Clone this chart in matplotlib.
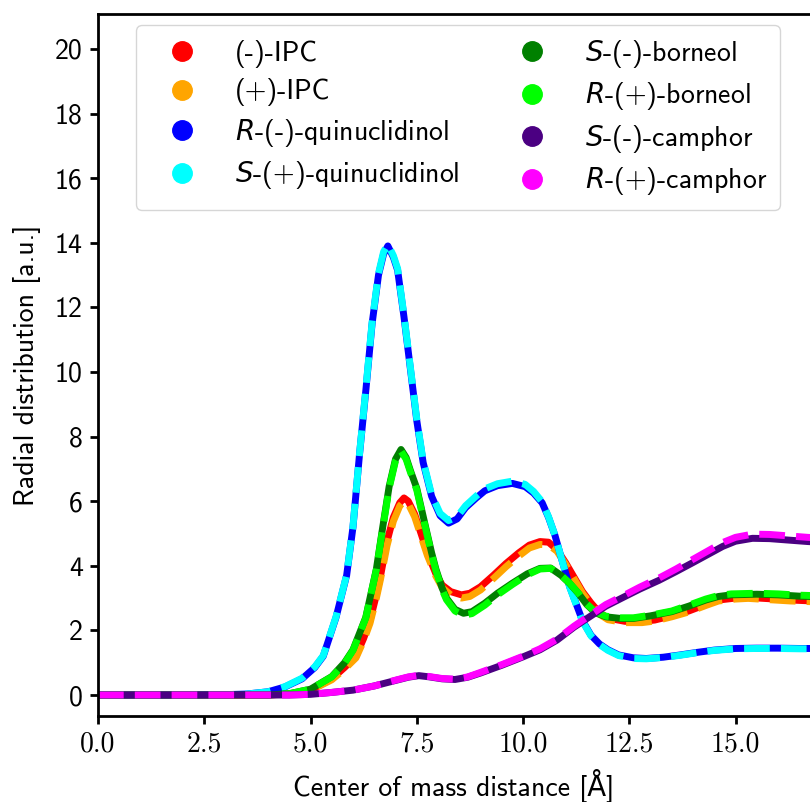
import matplotlib
matplotlib.use("Agg")
import matplotlib.pyplot as plt
from matplotlib.lines import Line2D

# ---------------- data ----------------
labels = ["(-)-IPC", "(+)-IPC", r"$R$-(-)-quinuclidinol", r"$S$-(+)-quinuclidinol",
          r"$S$-(-)-borneol", r"$R$-(+)-borneol", r"$S$-(-)-camphor", r"$R$-(+)-camphor"]
colors = ["red", "orange", "blue", "cyan", "green", "lime", "indigo", "magenta"]

r_quin = [0, 2, 3, 3.5, 4.0, 4.4, 4.8, 5.1, 5.3, 5.6, 5.85, 6.0, 6.15, 6.3, 6.45, 6.6, 6.72,
          6.82, 6.95, 7.05, 7.2, 7.35, 7.5, 7.65, 7.85, 8.05, 8.25, 8.45, 8.65, 8.9, 9.1, 9.4,
          9.75, 10.05, 10.25, 10.45, 10.6, 10.75, 10.9, 11.1, 11.4, 11.6, 11.8, 12.0, 12.25,
          12.6, 12.9, 13.3, 13.7, 14.1, 14.5, 15.0, 15.5, 16.0, 16.5, 17.0]
g_quin_R = [0, 0, 0.01, 0.03, 0.1, 0.25, 0.5, 0.85, 1.2, 2.4, 3.7, 5.2, 7.4, 9.4, 11.5, 13.0, 13.65,
            13.9, 13.55, 13.15, 11.7, 10.1, 8.5, 7.2, 6.15, 5.55, 5.32, 5.45, 5.8, 6.1, 6.32, 6.48,
            6.55, 6.45, 6.25, 5.95, 5.5, 4.95, 4.25, 3.35, 2.3, 1.85, 1.58, 1.4, 1.24,
            1.15, 1.13, 1.17, 1.24, 1.32, 1.39, 1.44, 1.45, 1.45, 1.44, 1.44]
g_quin_S = [0, 0, 0.01, 0.03, 0.1, 0.26, 0.52, 0.87, 1.22, 2.42, 3.72, 5.22, 7.42, 9.45, 11.55, 13.05, 13.72,
            13.95, 13.6, 13.2, 11.75, 10.15, 8.55, 7.25, 6.2, 5.62, 5.4, 5.52, 5.86, 6.16, 6.38, 6.54,
            6.62, 6.52, 6.3, 5.98, 5.52, 4.95, 4.25, 3.33, 2.28, 1.83, 1.56, 1.38, 1.22,
            1.13, 1.12, 1.16, 1.23, 1.31, 1.38, 1.43, 1.44, 1.44, 1.43, 1.43]

r_ipc = [0, 2, 4, 4.5, 5.0, 5.5, 5.8, 6.07, 6.25, 6.4, 6.55, 6.65, 6.8, 6.95, 7.1, 7.2, 7.3,
         7.45, 7.6, 7.75, 7.95, 8.1, 8.3, 8.55, 8.75, 9.0, 9.3, 9.6, 9.9, 10.15, 10.4, 10.6,
         10.8, 11.0, 11.2, 11.4, 11.6, 11.8, 12.0, 12.4, 12.8, 13.1, 13.5, 13.9, 14.3, 14.6,
         15.0, 15.3, 15.8, 16.3, 17.0]
g_ipc_m = [0, 0, 0.0, 0.03, 0.15, 0.5, 0.85, 1.2, 1.75, 2.3, 3.1, 3.7, 4.75, 5.5, 5.95, 6.1, 6.0,
           5.6, 5.0, 4.4, 3.75, 3.4, 3.2, 3.1, 3.15, 3.35, 3.7, 4.07, 4.4, 4.64, 4.75, 4.73,
           4.5, 4.1, 3.65, 3.2, 2.85, 2.55, 2.38, 2.28, 2.28, 2.32, 2.45, 2.6, 2.8, 2.94,
           3.0, 3.02, 2.98, 2.94, 2.9]
g_ipc_p = [0, 0, 0.0, 0.03, 0.14, 0.47, 0.8, 1.15, 1.68, 2.22, 3.0, 3.6, 4.62, 5.38, 5.85, 6.0, 5.92,
           5.52, 4.92, 4.32, 3.68, 3.32, 3.1, 3.0, 3.05, 3.25, 3.6, 3.97, 4.3, 4.55, 4.66, 4.65,
           4.45, 4.05, 3.6, 3.15, 2.8, 2.5, 2.33, 2.24, 2.24, 2.29, 2.42, 2.57, 2.77, 2.91,
           2.97, 2.99, 2.95, 2.91, 2.88]

r_born = [0, 2, 4, 4.5, 5.0, 5.5, 5.8, 6.0, 6.15, 6.3, 6.45, 6.55, 6.7, 6.85, 7.0, 7.13, 7.25,
          7.35, 7.5, 7.7, 7.85, 7.95, 8.1, 8.2, 8.4, 8.6, 8.8, 9.1, 9.4, 9.75, 10.1, 10.4, 10.65,
          10.9, 11.1, 11.3, 11.5, 11.7, 11.95, 12.3, 12.6, 13.0, 13.5, 13.9, 14.3, 14.6, 14.9,
          15.5, 16.0, 16.5, 17.0]
g_born_S = [0, 0, 0.0, 0.04, 0.18, 0.57, 1.0, 1.4, 1.9, 2.4, 3.3, 3.9, 5.2, 6.45, 7.3, 7.6, 7.35,
            6.95, 6.4, 5.25, 4.4, 3.9, 3.3, 3.0, 2.65, 2.53, 2.58, 2.84, 3.15, 3.46, 3.75, 3.92, 3.93,
            3.7, 3.45, 3.15, 2.8, 2.55, 2.42, 2.37, 2.37, 2.45, 2.58, 2.75, 2.94, 3.05, 3.1,
            3.12, 3.1, 3.06, 3.04]
g_born_R = [0, 0, 0.0, 0.04, 0.18, 0.56, 0.98, 1.38, 1.88, 2.38, 3.28, 3.88, 5.15, 6.4, 7.25, 7.55, 7.3,
            6.9, 6.35, 5.2, 4.35, 3.85, 3.25, 2.95, 2.6, 2.47, 2.52, 2.78, 3.1, 3.42, 3.72, 3.9, 3.92,
            3.7, 3.46, 3.16, 2.82, 2.57, 2.44, 2.39, 2.39, 2.47, 2.6, 2.78, 2.97, 3.08, 3.13,
            3.15, 3.13, 3.09, 3.07]

r_camph = [0, 2, 4.5, 5.0, 5.5, 6.0, 6.5, 7.0, 7.3, 7.55, 7.8, 8.1, 8.4, 8.7, 9.0, 9.5, 10.0,
           10.4, 10.8, 11.2, 11.6, 11.95, 12.4, 12.75, 13.2, 13.6, 14.0, 14.35, 14.7, 15.0,
           15.4, 15.8, 16.2, 16.7, 17.0]
g_camph_S = [0, 0, 0.0, 0.02, 0.08, 0.15, 0.28, 0.45, 0.55, 0.6, 0.56, 0.5, 0.48, 0.55, 0.68, 0.92, 1.18,
             1.4, 1.7, 2.1, 2.45, 2.75, 3.05, 3.28, 3.55, 3.82, 4.1, 4.35, 4.6, 4.76,
             4.85, 4.84, 4.8, 4.75, 4.73]
g_camph_R = [0, 0, 0.0, 0.02, 0.08, 0.15, 0.28, 0.46, 0.56, 0.61, 0.57, 0.51, 0.49, 0.56, 0.7, 0.94, 1.2,
             1.43, 1.73, 2.13, 2.49, 2.8, 3.1, 3.34, 3.62, 3.9, 4.2, 4.46, 4.72, 4.88,
             4.98, 4.97, 4.93, 4.88, 4.86]

xs = [r_ipc, r_ipc, r_quin, r_quin, r_born, r_born, r_camph, r_camph]
ys = [g_ipc_m, g_ipc_p, g_quin_R, g_quin_S, g_born_S, g_born_R, g_camph_S, g_camph_R]
styles = ["-", "--", "-", "--", "-", "--", "-", "--"]

xticks = [0.0, 2.5, 5.0, 7.5, 10.0, 12.5, 15.0]
yticks = [0, 2, 4, 6, 8, 10, 12, 14, 16, 18, 20]

# ---------------- plot ----------------
plt.rcParams['font.family'] = ['cmss10', 'DejaVu Sans']
plt.rcParams['mathtext.fontset'] = 'dejavusans'
plt.rcParams['axes.unicode_minus'] = False

FS = 20
W, H = 810, 802
fig = plt.figure(figsize=(W / 100, H / 100), dpi=100)
ax = fig.add_axes([98 / W, 1 - 716 / H, (W - 98) / W, (716 - 14) / H])

for x, y, c, ls in zip(xs, ys, colors, styles):
    ax.plot(x, y, color=c, ls=ls, lw=5)

ax.set_xlim(0, (W - 98) / 42.5)
ax.set_ylim(-0.65, 21.08)
ax.set_xticks(xticks)
ax.set_xticklabels([f"{t:.1f}" for t in xticks], fontfamily='cmr10', fontsize=FS)
ax.set_yticks(yticks)
ax.set_yticklabels([str(t) for t in yticks], fontsize=FS)
ax.tick_params(direction='out', length=6, width=2, pad=5)
for s in ['left', 'bottom', 'top']:
    ax.spines[s].set_linewidth(2)
ax.spines['right'].set_visible(False)

ax.set_xlabel("Center of mass distance [Å]", fontsize=FS, labelpad=8)
ax.set_ylabel("Radial distribution [a.u.]", fontsize=FS, labelpad=10)

handles = [Line2D([], [], marker='o', ls='none', color=c, markersize=14) for c in colors]
fig.legend(handles, labels, ncol=2, loc='upper left',
           bbox_to_anchor=(136 / W, 1 - 26 / H, (780 - 136) / W, 0.001),
           mode='expand', borderaxespad=0, fontsize=FS, handlelength=2.4,
           handletextpad=0.7, labelspacing=0.38, borderpad=0.45, fancybox=True)

fig.savefig("out.png", dpi=100)
